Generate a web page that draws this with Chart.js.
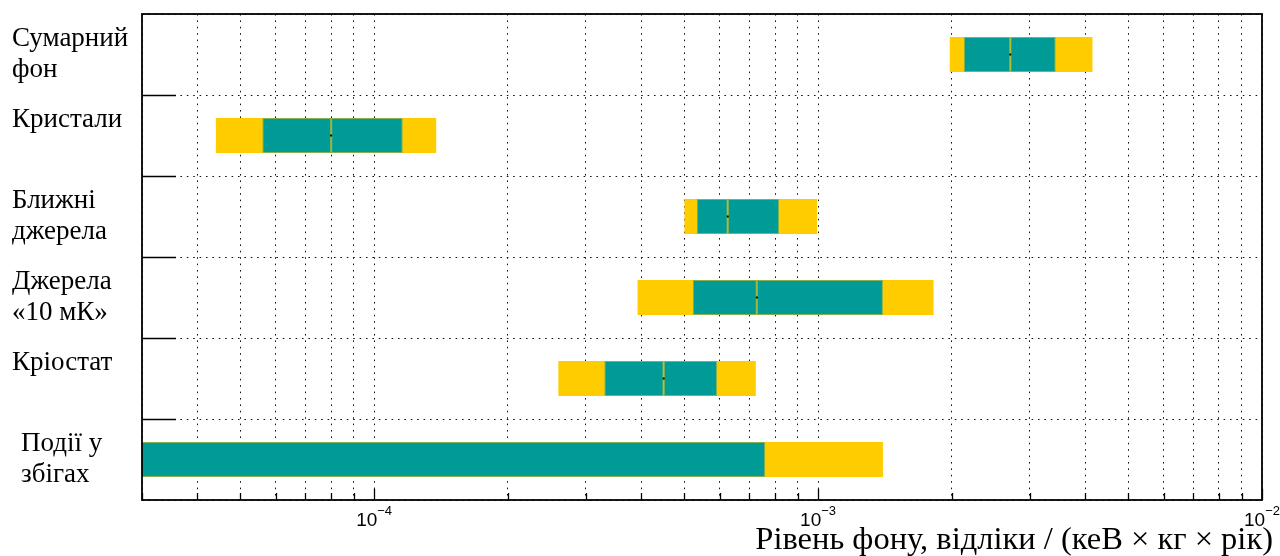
<!DOCTYPE html>
<html><head><meta charset="utf-8">
<script src="https://cdn.jsdelivr.net/npm/chart.js@4.4.1/dist/chart.umd.min.js"></script>
<style>html,body{margin:0;padding:0;background:#fff;overflow:hidden}</style>
</head><body>
<canvas id="c" width="1280" height="556" style="width:1280px;height:556px;display:block"></canvas>
<script>
// ---- data ----
const categories = [
  ['Сумарний', 'фон'],
  ['Кристали', ''],
  ['Ближні', 'джерела'],
  ['Джерела', '«10 мК»'],
  ['Кріостат', ''],
  ['\u2004Події у', '\u2004збігах']
];
const outerLow  = [1.98e-3, 4.40e-5, 5.00e-4, 3.92e-4, 2.60e-4, 1.0e-5];
const outerHigh = [4.15e-3, 1.38e-4, 9.95e-4, 1.82e-3, 7.24e-4, 1.40e-3];
const innerLow  = [2.13e-3, 5.60e-5, 5.33e-4, 5.22e-4, 3.30e-4, 1.0e-5];
const innerHigh = [3.43e-3, 1.16e-4, 8.17e-4, 1.40e-3, 5.92e-4, 7.60e-4];
const medians   = [2.71e-3, 8.00e-5, 6.26e-4, 7.28e-4, 4.49e-4, null];
const xMin = 3e-5, xMax = 1e-2;
const tickValues = [
  3e-5, 4e-5, 5e-5, 6e-5, 7e-5, 8e-5, 9e-5,
  1e-4, 2e-4, 3e-4, 4e-4, 5e-4, 6e-4, 7e-4, 8e-4, 9e-4,
  1e-3, 2e-3, 3e-3, 4e-3, 5e-3, 6e-3, 7e-3, 8e-3, 9e-3,
  1e-2
];
const xTitle = 'Рівень фону, відліки / (кеВ × кг × рік)';

// ---- chart ----
const TEAL = '#009b96', YELLOW = '#ffcc00';
const innerLeft  = innerLow.map((v, i) => [v, medians[i] ?? innerHigh[i]]);
const innerRight = innerHigh.map((v, i) => medians[i] == null ? null : [medians[i], v]);
const outer = outerLow.map((v, i) => [v, outerHigh[i]]);

const isMajor = v => Math.abs(Math.log10(v) - Math.round(Math.log10(v))) < 1e-9;

const framePlugin = {
  id: 'frame',
  afterDraw(chart) {
    const {ctx, chartArea: a, scales: {x, y}} = chart;
    ctx.save();
    ctx.strokeStyle = '#000';
    // inward x ticks
    ctx.lineWidth = 1.3;
    x.ticks.forEach(t => {
      const px = Math.round(x.getPixelForValue(t.value)) + 0.5;
      const len = isMajor(t.value) ? 11 : 7;
      ctx.beginPath(); ctx.moveTo(px, a.bottom); ctx.lineTo(px, a.bottom - len); ctx.stroke();
    });
    // inward y ticks at category boundaries
    ctx.lineWidth = 1.6;
    for (let i = 1; i < categories.length; i++) {
      const py = Math.round((y.getPixelForValue(i - 1) + y.getPixelForValue(i)) / 2) + 0.5;
      ctx.beginPath(); ctx.moveTo(a.left, py); ctx.lineTo(a.left + 34, py); ctx.stroke();
    }
    // frame
    ctx.lineWidth = 1.8;
    ctx.strokeRect(a.left, a.top, a.right - a.left, a.bottom - a.top);
    // x tick labels 10^n
    ctx.fillStyle = '#000';
    ctx.textBaseline = 'alphabetic';
    x.ticks.filter(t => isMajor(t.value)).forEach(t => {
      const px = x.getPixelForValue(t.value);
      const e = Math.round(Math.log10(t.value));
      const base = '10', exp = (e < 0 ? '\u2212' : '') + Math.abs(e);
      ctx.font = '19px "Liberation Sans", Arial, sans-serif';
      const wb = ctx.measureText(base).width;
      ctx.font = '13px "Liberation Sans", Arial, sans-serif';
      const we = ctx.measureText(exp).width;
      const x0 = px - (wb + we) / 2;
      ctx.font = '19px "Liberation Sans", Arial, sans-serif';
      ctx.textAlign = 'left';
      ctx.fillText(base, x0, a.bottom + 26);
      ctx.font = '13px "Liberation Sans", Arial, sans-serif';
      ctx.fillText(exp, x0 + wb, a.bottom + 15);
    });
    // axis title
    ctx.font = '32.5px "Liberation Serif", "Times New Roman", serif';
    ctx.textAlign = 'right';
    ctx.fillText(xTitle, 1273, 549);
    ctx.restore();
  }
};

const dashes = [1.6, 4.8];
new Chart(document.getElementById('c'), {
  data: {
    labels: categories,
    datasets: [
      { type: 'line', data: medians, showLine: false, pointStyle: 'rect', pointRadius: 1.4,
        pointBorderWidth: 0, backgroundColor: '#000', borderColor: '#000', clip: 0 },
      { type: 'bar', data: innerLeft, backgroundColor: TEAL, borderColor: 'rgba(50,160,135,0.6)',
        borderWidth: 1, borderSkipped: false, grouped: false, clip: 0 },
      { type: 'bar', data: innerRight, backgroundColor: TEAL, borderColor: 'rgba(50,160,135,0.6)',
        borderWidth: 1, borderSkipped: false, grouped: false, clip: 0 },
      { type: 'bar', data: outer, backgroundColor: YELLOW, borderWidth: 0, grouped: false, clip: 0 }
    ]
  },
  options: {
    indexAxis: 'y',
    responsive: false,
    animation: false,
    devicePixelRatio: 1,
    layout: { padding: { left: 12, right: 18, top: 14, bottom: 0 } },
    datasets: { bar: { barPercentage: 0.432, categoryPercentage: 1 } },
    plugins: { legend: { display: false }, tooltip: { enabled: false }, title: { display: false } },
    scales: {
      x: {
        type: 'logarithmic', position: 'bottom', min: xMin, max: xMax,
        afterBuildTicks: s => { s.ticks = tickValues.map(v => ({ value: v, major: isMajor(v) })); },
        afterFit: s => { s.height = 56; s.paddingLeft = 0; s.paddingRight = 0; },
        ticks: { display: false },
        grid: { color: '#111', lineWidth: 1, drawTicks: false },
        border: { display: false, dash: dashes }
      },
      y: {
        type: 'category', position: 'left', offset: true,
        afterFit: s => { s.width = 130; s.paddingTop = 0; s.paddingBottom = 0; },
        ticks: { crossAlign: 'far', padding: 0, color: '#000',
                 font: { family: '"Liberation Serif", "Times New Roman", serif', size: 27, lineHeight: 1.12 } },
        grid: { offset: true, color: '#111', lineWidth: 1, drawTicks: false },
        border: { display: false, dash: dashes }
      }
    }
  },
  plugins: [framePlugin]
});
</script>
</body></html>
